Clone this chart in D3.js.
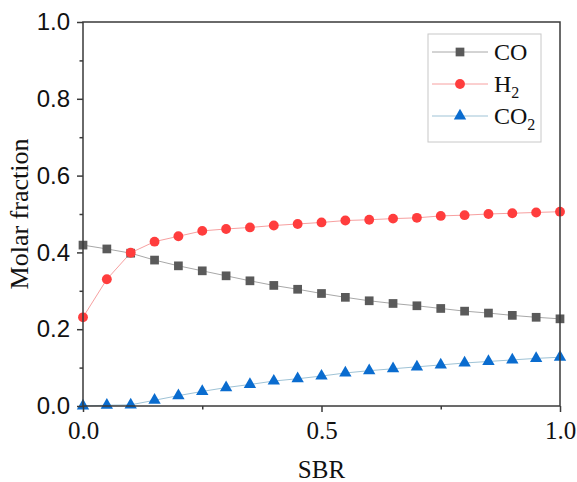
<!DOCTYPE html>
<html>
<head>
<meta charset="utf-8">
<script src="https://cdn.jsdelivr.net/npm/d3@7"></script>
<style>
  html, body { margin: 0; padding: 0; background: #fff; }
  svg { display: block; }
</style>
</head>
<body>
<svg id="chart" width="577" height="482"></svg>
<script>
// SBR values (0 to 1, step 0.05)
const sbr = [0, 0.05, 0.1, 0.15, 0.2, 0.25, 0.3, 0.35, 0.4, 0.45, 0.5,
             0.55, 0.6, 0.65, 0.7, 0.75, 0.8, 0.85, 0.9, 0.95, 1.0];

const coValues = [0.419, 0.409, 0.398, 0.380, 0.365, 0.352, 0.339, 0.326, 0.314, 0.304, 0.293,
                  0.283, 0.274, 0.267, 0.261, 0.254, 0.247, 0.242, 0.236, 0.231, 0.227];
const h2Values = [0.231, 0.330, 0.399, 0.428, 0.442, 0.456, 0.461, 0.465, 0.470, 0.474, 0.478,
                  0.483, 0.485, 0.488, 0.490, 0.495, 0.497, 0.500, 0.502, 0.504, 0.506];
const co2Values = [0.000, 0.002, 0.003, 0.015, 0.027, 0.038, 0.048, 0.056, 0.065, 0.071, 0.078,
                   0.086, 0.092, 0.097, 0.102, 0.107, 0.112, 0.116, 0.120, 0.124, 0.127];

const xTicks = [0, 0.5, 1.0];
const xMinorTicks = [0.25, 0.75];
const yTicks = [0, 0.2, 0.4, 0.6, 0.8, 1.0];
const yMinorTicks = [0.1, 0.3, 0.5, 0.7, 0.9];

const series = [
    { name: "CO", sub: "", values: coValues, marker: "square", color: "#5a5a5a", line: "#a8a8a8" },
    { name: "H", sub: "2", values: h2Values, marker: "circle", color: "#ff3d3d", line: "#f7a0a0" },
    { name: "CO", sub: "2", values: co2Values, marker: "triangle", color: "#0a6ccf", line: "#9fc3d6" }
];

const width = 577, height = 482;
const margin = { top: 22, right: 17, bottom: 76, left: 83 };
const svg = d3.select("#chart");

const x = d3.scaleLinear().domain([0, 1]).range([margin.left, width - margin.right]);
const y = d3.scaleLinear().domain([0, 1]).range([height - margin.bottom, margin.top]);

const serif = "'Liberation Serif', 'Times New Roman', serif";
const sans = "'Liberation Sans', Arial, sans-serif";
const axisColor = "#3a3a3a";

// series lines + markers
const line = d3.line().x((d, i) => x(sbr[i])).y(d => y(d));

const symbolFor = {
    square: d3.symbol().type(d3.symbolSquare).size(76),
    circle: d3.symbol().type(d3.symbolCircle).size(76),
    triangle: d3.symbol().type(d3.symbolTriangle).size(66)
};

const plot = svg.append("g");
series.forEach(s => {
    plot.append("path")
        .datum(s.values)
        .attr("fill", "none")
        .attr("stroke", s.line)
        .attr("stroke-width", 1)
        .attr("d", line);
});
series.forEach(s => {
    plot.selectAll(null)
        .data(s.values)
        .join("path")
        .attr("transform", (d, i) => `translate(${x(sbr[i])},${y(d)})`)
        .attr("d", symbolFor[s.marker]())
        .attr("fill", s.color);
});

// frame
svg.append("rect")
    .attr("x", margin.left).attr("y", margin.top)
    .attr("width", width - margin.left - margin.right)
    .attr("height", height - margin.top - margin.bottom)
    .attr("fill", "none")
    .attr("stroke", axisColor)
    .attr("stroke-width", 1.5);

// y axis
const yAxis = svg.append("g").attr("transform", `translate(${margin.left},0)`);
yAxis.call(d3.axisLeft(y).tickValues(yTicks).tickSize(6).tickPadding(7).tickFormat(d3.format(".1f")));
yAxis.append("g").call(d3.axisLeft(y).tickValues(yMinorTicks).tickSize(3.5).tickFormat(""));
yAxis.selectAll(".domain").remove();
yAxis.selectAll("line").attr("stroke", axisColor).attr("stroke-width", 1.5);
yAxis.selectAll("text").attr("fill", "#111").style("font-family", sans).style("font-size", "24px");

// x axis
const xAxis = svg.append("g").attr("transform", `translate(0,${height - margin.bottom})`);
xAxis.call(d3.axisBottom(x).tickValues(xTicks).tickSize(6).tickPadding(9).tickFormat(d3.format(".1f")));
xAxis.append("g").call(d3.axisBottom(x).tickValues(xMinorTicks).tickSize(3.5).tickFormat(""));
xAxis.selectAll(".domain").remove();
xAxis.selectAll("line").attr("stroke", axisColor).attr("stroke-width", 1.5);
xAxis.selectAll("text").attr("fill", "#111").style("font-family", serif).style("font-size", "25px");

// axis titles
svg.append("text")
    .attr("x", (margin.left + width - margin.right) / 2)
    .attr("y", 478)
    .attr("text-anchor", "middle")
    .style("font-family", serif).style("font-size", "25px").attr("fill", "#111")
    .text("SBR");

svg.append("text")
    .attr("transform", `translate(28,${(margin.top + height - margin.bottom) / 2}) rotate(-90)`)
    .attr("text-anchor", "middle")
    .style("font-family", serif).style("font-size", "26px").attr("fill", "#111")
    .text("Molar fraction");

// legend
const legend = svg.append("g");
legend.append("rect")
    .attr("x", 428).attr("y", 34).attr("width", 113).attr("height", 108)
    .attr("fill", "#fff").attr("stroke", "#c8c8c8").attr("stroke-width", 1);

series.forEach((s, i) => {
    const ly = 52 + i * 32;
    const g = legend.append("g");
    g.append("line").attr("x1", 432).attr("x2", 488).attr("y1", ly).attr("y2", ly)
        .attr("stroke", s.line).attr("stroke-width", 1);
    g.append("path").attr("transform", `translate(460,${ly})`)
        .attr("d", symbolFor[s.marker]()).attr("fill", s.color);
    const t = g.append("text").attr("x", 494).attr("y", ly + 8)
        .style("font-family", serif).style("font-size", "24px").attr("fill", "#111");
    t.append("tspan").text(s.name);
    if (s.sub) t.append("tspan").attr("dy", 6).style("font-size", "16px").text(s.sub);
});
</script>
</body>
</html>
